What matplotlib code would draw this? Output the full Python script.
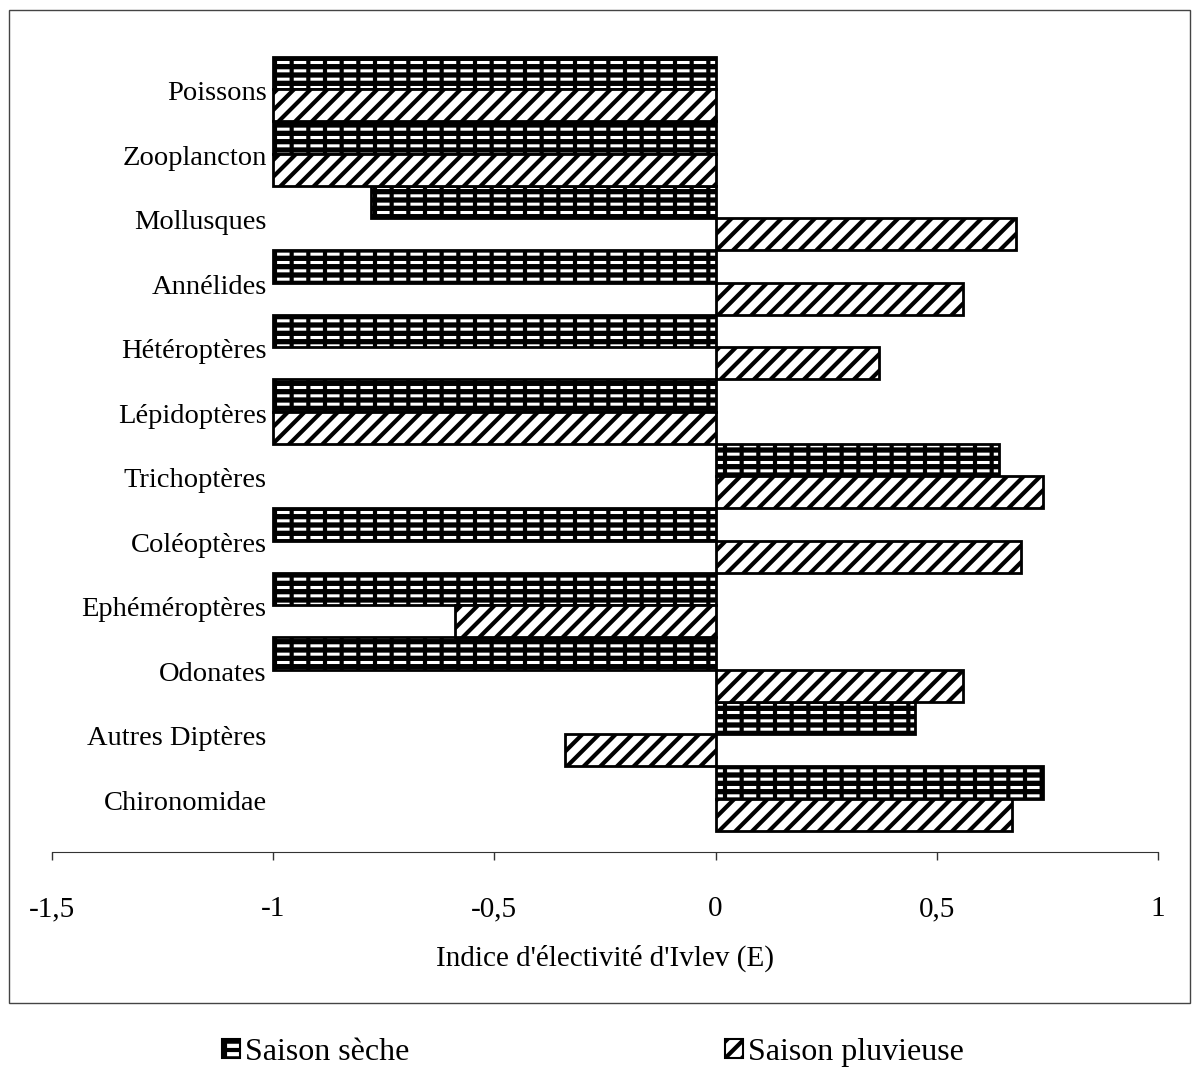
import numpy as np
import matplotlib
matplotlib.use("Agg")
import matplotlib.pyplot as plt
from matplotlib.patches import Patch, Rectangle

plt.rcParams['font.family'] = ['Liberation Serif', 'DejaVu Serif']
plt.rcParams['hatch.linewidth'] = 3.0

# categories listed top to bottom as in the figure
categories = ["Poissons", "Zooplancton", "Mollusques", "Annélides", "Hétéroptères",
              "Lépidoptères", "Trichoptères", "Coléoptères", "Ephéméroptères",
              "Odonates", "Autres Diptères", "Chironomidae"]
saison_seche = [-1, -1, -0.78, -1, -1, -1, 0.64, -1, -1, -1, 0.45, 0.74]
saison_pluvieuse = [-1, -1, 0.68, 0.56, 0.37, -1, 0.74, 0.69, -0.59, 0.56, -0.34, 0.67]
xticks = [-1.5, -1, -0.5, 0, 0.5, 1]
xtick_labels = ["-1,5", "-1", "-0,5", "0", "0,5", "1"]


def hatch_lw(bars, lw):
    for b in bars:
        if hasattr(b, 'set_hatch_linewidth'):
            b.set_hatch_linewidth(lw)


fig = plt.figure(figsize=(11.93, 10.73), dpi=100)
ax = fig.add_axes([0.0436, 0.206, 0.927, 0.7605])

n = len(categories)
y = np.arange(n)[::-1]  # Poissons at top
h = 0.5

# saison seche : brick-like pattern (white bricks on black)
b1 = ax.barh(y + h / 2, saison_seche, height=h, color='black', edgecolor='white',
             hatch='--', linewidth=0)
hatch_lw(b1, 2.2)
b2 = ax.barh(y + h / 2, saison_seche, height=h, facecolor='none', edgecolor='black',
             hatch='|', linewidth=0)
hatch_lw(b2, 3.0)
ax.barh(y + h / 2, saison_seche, height=h, fill=False, edgecolor='black', linewidth=2)

# saison pluvieuse : diagonal stripes
b3 = ax.barh(y - h / 2, saison_pluvieuse, height=h, facecolor='white', edgecolor='black',
             hatch='//', linewidth=2)
hatch_lw(b3, 3.0)

for yi, lab in zip(y, categories):
    ax.text(-1.015, yi - 0.07, lab, ha='right', va='center', fontsize=20.5)

ax.set_xlim(-1.5, 1)
ax.set_ylim(-0.826, n - 1 + 0.826)
ax.set_xticks(xticks)
ax.set_xticklabels(xtick_labels, fontsize=21)
ax.tick_params(axis='x', direction='out', length=6, width=1, pad=26, color='#333333')
ax.set_yticks([])
for s in ['top', 'right', 'left']:
    ax.spines[s].set_visible(False)
ax.spines['bottom'].set_color('#333333')
ax.set_xlabel("Indice d'électivité d'Ivlev (E)", fontsize=21, labelpad=16)

# outer frame
fig.patches.append(Rectangle((9 / 1193, 1 - 1003 / 1073), 1181 / 1193, 993 / 1073,
                             transform=fig.transFigure, fill=False,
                             edgecolor='#444444', linewidth=1))

hd1 = Patch(facecolor='black', edgecolor='white', hatch='--', linewidth=0)
hd1b = Patch(facecolor='none', edgecolor='black', hatch='|', linewidth=0)
hd1c = Patch(fill=False, edgecolor='black', linewidth=1.5)
hd2 = Patch(facecolor='white', edgecolor='black', hatch='//', linewidth=1.5)
hatch_lw([hd1, hd2], 2.2)
hatch_lw([hd1b], 3.0)
fig.legend([(hd1, hd1b, hd1c), hd2], ["Saison sèche", "Saison pluvieuse"], loc='center',
           bbox_to_anchor=(0.497, 0.019), ncol=2, frameon=False, fontsize=23,
           handlelength=0.55, handleheight=0.55, handletextpad=0.15, columnspacing=9.9)

fig.savefig("out.png", dpi=100)
